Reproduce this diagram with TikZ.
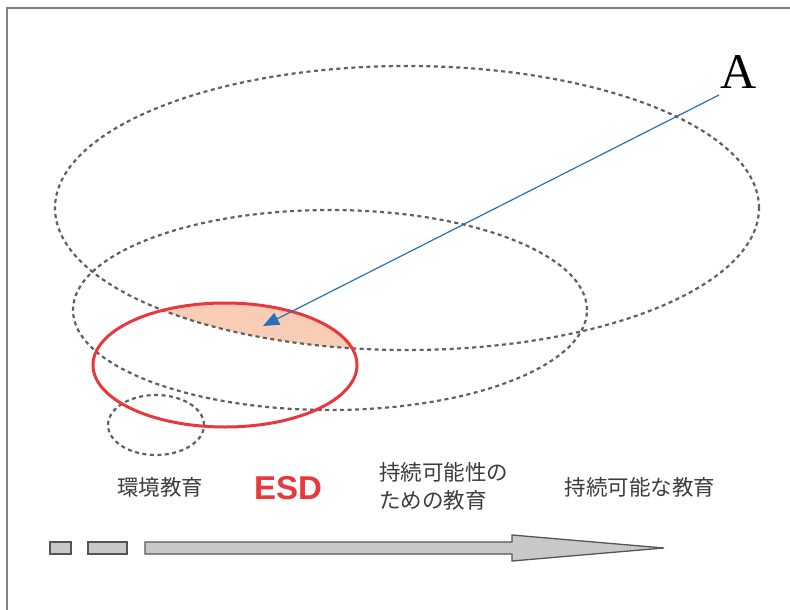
\documentclass[tikz,border=0pt]{standalone}
\usepackage{fontspec}
\setmainfont{Liberation Serif}
\newfontfamily\jpfont{Noto Sans CJK JP}
\newfontfamily\esdfont{Liberation Sans}
\usetikzlibrary{arrows.meta}
\definecolor{dashgray}{HTML}{606060}
\definecolor{esdred}{HTML}{E8383D}
\definecolor{peach}{HTML}{F9CDB5}
\definecolor{txtgray}{HTML}{3C3C3C}
\definecolor{pointer}{HTML}{2A70B8}
\definecolor{arrowfill}{HTML}{C8C8C8}
\definecolor{arrowline}{HTML}{555555}
\definecolor{framegray}{HTML}{808080}
\tikzset{
  dashring/.style={draw=dashgray, line width=2.2pt, dash pattern=on 4pt off 3.5pt},
  esdring/.style={draw=esdred, line width=3pt},
  jplabel/.style={font=\jpfont\fontsize{21.5}{28}\selectfont, text=txtgray, inner sep=0pt},
  bararrow/.style={draw=arrowline, fill=arrowfill, line width=1.3pt, line join=miter},
}
\begin{document}
\begin{tikzpicture}[x=1pt,y=-1pt]
\useasboundingbox (0,0) rectangle (790,610);
% frame
\draw[framegray, line width=1.4pt] (7,610) -- (7,8) -- (790,8);
% highlighted intersection
\begin{scope}
  \clip (407,208) ellipse [x radius=352pt, y radius=142pt];
  \fill[peach] (225,365) ellipse [x radius=132pt, y radius=62pt];
\end{scope}
% dashed rings
\draw[dashring] (407,208) ellipse [x radius=352pt, y radius=142pt];
\draw[dashring] (330,310) ellipse [x radius=257pt, y radius=100pt];
\draw[dashring] (156,425) ellipse [x radius=48pt, y radius=30pt];
% ESD ring
\draw[esdring] (225,365) ellipse [x radius=132pt, y radius=62pt];
% label A and pointer
\node[font=\fontsize{50}{50}\selectfont, inner sep=0pt] (A) at (739,72) {A};
\coordinate (pstart) at (719,95);
\coordinate (ptip) at (263,326);
\draw[pointer, line width=1.2pt, -{Triangle[length=16pt,width=13pt]}] (pstart) -- (ptip);
% labels
\node[jplabel] (kankyo) at (160,487) {環境教育};
\node[font=\esdfont\bfseries\fontsize{33}{33}\selectfont, text=esdred, inner sep=0pt] (esd) at (288,488) {ESD};
\node[jplabel, align=left, anchor=west] (jizokusei) at (379,486) {持続可能性の\\ための教育};
\node[jplabel] (jizoku) at (640,487) {持続可能な教育};
% bottom arrow
\draw[bararrow] (50,542) rectangle (71,554);
\draw[bararrow] (88,542) rectangle (127,554);
\draw[bararrow] (145,542) -- (512,542) -- (512,535) -- (664,548) -- (512,561) -- (512,554) -- (145,554) -- cycle;
\end{tikzpicture}
\end{document}
